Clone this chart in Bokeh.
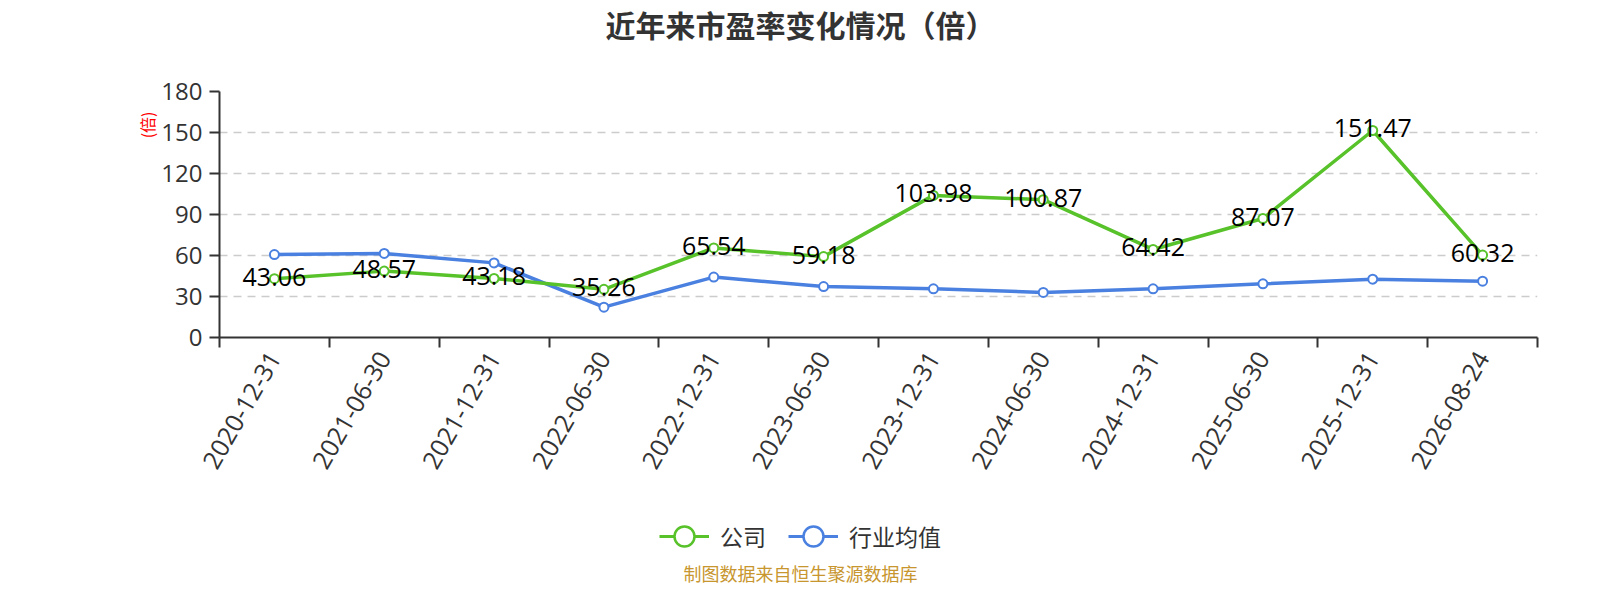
import math
from bokeh.plotting import figure
from bokeh.layouts import column
from bokeh.models import (LinearAxis, FixedTicker, Grid, Range1d, Legend,
                          LegendItem, ColumnDataSource, Title, Label)
from bokeh.core.properties import value
from bokeh.embed import file_html
from bokeh.resources import INLINE

# ---- data ----
categories = ["2020-12-31", "2021-06-30", "2021-12-31", "2022-06-30", "2022-12-31",
              "2023-06-30", "2023-12-31", "2024-06-30", "2024-12-31", "2025-06-30",
              "2025-12-31", "2026-08-24"]
company = [43.06, 48.57, 43.18, 35.26, 65.54, 59.18, 103.98, 100.87, 64.42, 87.07, 151.47, 60.32]
industry = [60.7, 61.5, 54.6, 22.2, 44.2, 37.3, 35.6, 33.0, 35.6, 39.3, 42.7, 41.2]
y_ticks = [0, 30, 60, 90, 120, 150, 180]
title_text = "近年来市盈率变化情况（倍）"
unit_text = "(倍)"
footer_text = "制图数据来自恒生聚源数据库"
series_names = ["公司", "行业均值"]

GREEN = "#58c22a"
BLUE = "#4a80e0"
DARK = "#333333"
NUM_FONT = "Open Sans"
CJK_FONT = "Noto Sans CJK SC"

W = 1584
H_TOP, H_LEG = 50, 94
H_MAIN = 584 - H_TOP - H_LEG
L, R = 219, 47
T = 91 - H_TOP
B = H_MAIN - T - 246
PAGE_CX = 800          # horizontal centre of title / legend / footer

n = len(categories)
xs = list(range(n))

src = ColumnDataSource(dict(x=xs, company=company, industry=industry,
                            clabel=[f"{v:.2f}" for v in company]))

def strip(height):
    f = figure(width=W, height=height, output_backend="svg", toolbar_location=None,
               x_axis_type=None, y_axis_type=None, title_location=None,
               x_range=Range1d(-0.5, n - 0.5), y_range=Range1d(1000, 1001),
               min_border=0)
    f.outline_line_color = None
    f.xgrid.visible = False
    f.ygrid.visible = False
    return f

# ---- title strip ----
t = strip(H_TOP)
t.add_layout(Label(x=PAGE_CX - L, y=H_TOP - 23.5, x_units="screen", y_units="screen",
                   text=title_text, text_align="center", text_baseline="middle",
                   text_font=CJK_FONT, text_font_size="30px", text_font_style="bold",
                   text_color=DARK))

# ---- main plot ----
p = figure(width=W, height=H_MAIN, output_backend="svg", toolbar_location=None,
           x_axis_type=None, y_axis_type=None, title_location=None,
           x_range=Range1d(-0.5, n - 0.5), y_range=Range1d(0, 180),
           min_border_left=L, min_border_right=R, min_border_top=T, min_border_bottom=B)
p.outline_line_color = None
p.background_fill_color = "white"
p.border_fill_color = "white"

xticker = FixedTicker(ticks=xs, minor_ticks=[i - 0.5 for i in range(n + 1)])
xaxis = LinearAxis(ticker=xticker)
xaxis.major_label_overrides = {i: c for i, c in enumerate(categories)}
xaxis.major_label_orientation = math.pi / 3
xaxis.major_tick_in = 0
xaxis.major_tick_out = 0
xaxis.minor_tick_in = 0
xaxis.minor_tick_out = 10
xaxis.minor_tick_line_color = DARK
xaxis.minor_tick_line_width = 2
xaxis.axis_line_color = DARK
xaxis.axis_line_width = 2
xaxis.major_label_text_font = NUM_FONT
xaxis.major_label_text_font_size = "25px"
xaxis.major_label_text_color = DARK
xaxis.major_label_standoff = 6
p.add_layout(xaxis, "below")

yticker = FixedTicker(ticks=y_ticks, minor_ticks=[])
yaxis = LinearAxis(ticker=yticker)
yaxis.major_tick_in = 0
yaxis.major_tick_out = 10
yaxis.major_tick_line_color = DARK
yaxis.major_tick_line_width = 2
yaxis.axis_line_color = DARK
yaxis.axis_line_width = 2
yaxis.major_label_text_font = NUM_FONT
yaxis.major_label_text_font_size = "24px"
yaxis.major_label_text_color = DARK
yaxis.major_label_standoff = 7
p.add_layout(yaxis, "left")

# unit name on the left, near the top
p.add_layout(Title(text=unit_text, align="right", text_font=CJK_FONT,
                   text_font_size="16px", text_font_style="normal",
                   text_color="red", offset=20, standoff=0), "left")

p.add_layout(Grid(dimension=1, ticker=yticker, grid_line_color="#cccccc",
                  grid_line_width=1.5, grid_line_dash="8 6"))

p.line("x", "industry", source=src, line_color=BLUE, line_width=3.5)
p.scatter("x", "industry", source=src, size=9, fill_color="white",
          line_color=BLUE, line_width=2)
p.line("x", "company", source=src, line_color=GREEN, line_width=3.5)
p.scatter("x", "company", source=src, size=9, fill_color="white",
          line_color=GREEN, line_width=2)

p.text("x", "company", text="clabel", source=src, text_align="center",
       text_baseline="middle", text_font=value(NUM_FONT), text_font_size="25px",
       text_color="black", y_offset=-2)

# ---- legend + footer strip: same series drawn off-range, only their legend shows ----
q = strip(H_LEG)
gl = q.line("x", "company", source=src, line_color=GREEN, line_width=3)
gs = q.scatter("x", "company", source=src, size=9, fill_color="white",
               line_color=GREEN, line_width=2.5)
bl = q.line("x", "industry", source=src, line_color=BLUE, line_width=3)
bs = q.scatter("x", "industry", source=src, size=9, fill_color="white",
               line_color=BLUE, line_width=2.5)
LEG_W = 282
legend = Legend(items=[LegendItem(label=series_names[0], renderers=[gl, gs]),
                       LegendItem(label=series_names[1], renderers=[bl, bs])],
                orientation="horizontal",
                location=(PAGE_CX - LEG_W / 2 - L, 23),
                glyph_width=50, glyph_height=50, label_standoff=11, spacing=22,
                label_text_font=CJK_FONT, label_text_font_size="23px",
                label_text_color=DARK, border_line_alpha=0,
                background_fill_alpha=0, padding=0, margin=0)
q.add_layout(legend)
q.add_layout(Label(x=PAGE_CX - L, y=12, x_units="screen", y_units="screen",
                   text=footer_text, text_align="center", text_baseline="middle",
                   text_font=CJK_FONT, text_font_size="18px", text_color="#c8962e"))

open("out.html", "w").write(file_html(column(t, p, q, spacing=0), INLINE))
